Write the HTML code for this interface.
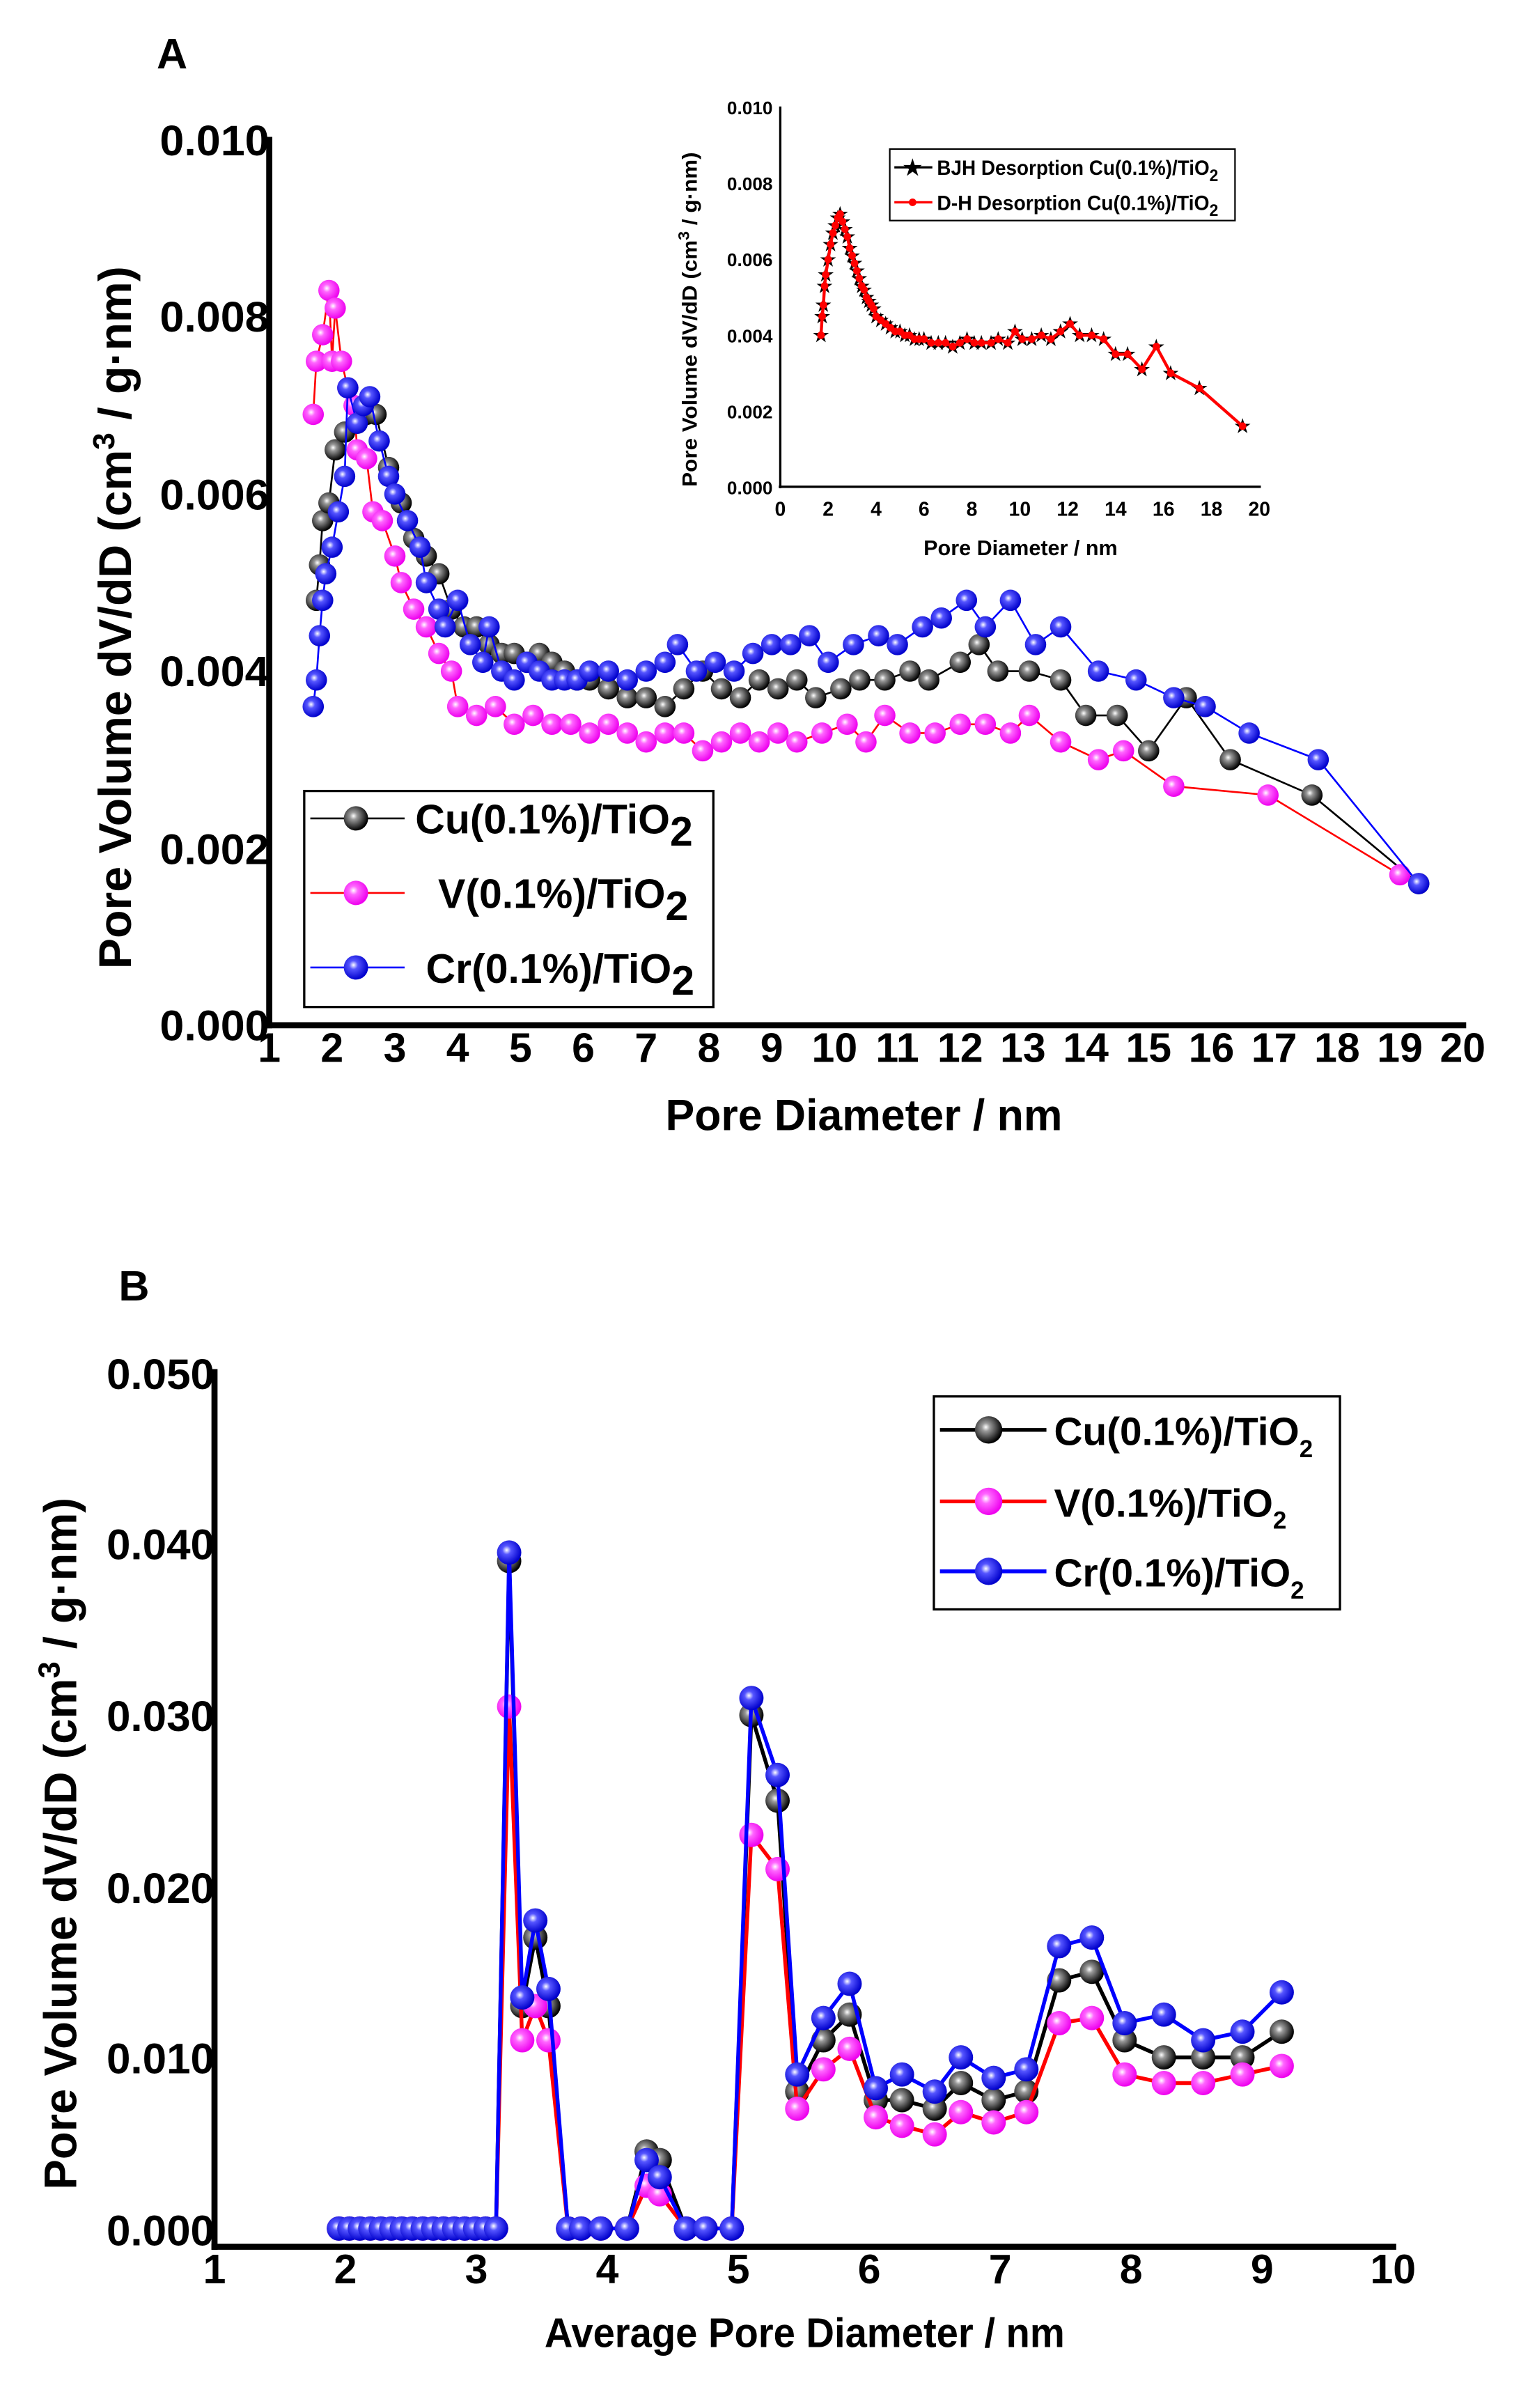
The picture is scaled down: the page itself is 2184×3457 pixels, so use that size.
<!DOCTYPE html>
<html><head><meta charset="utf-8"><style>
html,body{margin:0;padding:0;background:#fff}
svg{display:block}
text{font-family:"Liberation Sans",sans-serif;font-weight:bold}
</style></head><body>
<svg id="s" width="2184" height="3457" viewBox="0 0 1000 1583" xmlns="http://www.w3.org/2000/svg">
<defs>
<radialGradient id="gk" cx="0.4" cy="0.4" r="0.6"><stop offset="0" stop-color="#fff"/><stop offset="0.25" stop-color="#999"/><stop offset="1" stop-color="#000"/></radialGradient>
<radialGradient id="gm" cx="0.4" cy="0.4" r="0.6"><stop offset="0" stop-color="#fff"/><stop offset="0.3" stop-color="#f6f"/><stop offset="1" stop-color="#e0e"/></radialGradient>
<radialGradient id="gb" cx="0.4" cy="0.4" r="0.6"><stop offset="0" stop-color="#fff"/><stop offset="0.3" stop-color="#55f"/><stop offset="1" stop-color="#00c"/></radialGradient>
</defs>
<text x="103" y="45" font-size="28">A</text>
<text x="78" y="855" font-size="28">B</text>
<!-- Chart A axes -->
<g id="A"></g>
<line x1="177" y1="90" x2="177" y2="676" stroke="#000" stroke-width="4"/>
<line x1="175" y1="674" x2="964" y2="674" stroke="#000" stroke-width="4"/>
<g font-size="28">
<text x="105" y="102" textLength="72" lengthAdjust="spacingAndGlyphs">0.010</text><text x="105" y="218" textLength="72" lengthAdjust="spacingAndGlyphs">0.008</text><text x="105" y="335" textLength="72" lengthAdjust="spacingAndGlyphs">0.006</text>
<text x="105" y="451" textLength="72" lengthAdjust="spacingAndGlyphs">0.004</text><text x="105" y="568" textLength="72" lengthAdjust="spacingAndGlyphs">0.002</text><text x="105" y="684" textLength="72" lengthAdjust="spacingAndGlyphs">0.000</text>
</g>
<g font-size="27" text-anchor="middle" id="axA"></g>
<text x="568" y="743" font-size="29" text-anchor="middle" textLength="261" lengthAdjust="spacingAndGlyphs">Pore Diameter / nm</text>
<text transform="translate(86,406) rotate(-90)" font-size="30" text-anchor="middle" textLength="462" lengthAdjust="spacingAndGlyphs">Pore Volume dV/dD (cm<tspan dy="-11" font-size="20">3</tspan><tspan dy="11"> / g·nm)</tspan></text>
<!-- legend A -->
<rect x="200" y="520" width="269" height="142" fill="#fff" stroke="#000" stroke-width="1.5"/>
<g id="legA"></g>
<text x="273" y="548" font-size="27">Cu(0.1%)/TiO<tspan dy="8">2</tspan></text>
<text x="288" y="597" font-size="27">V(0.1%)/TiO<tspan dy="8">2</tspan></text>
<text x="280" y="646" font-size="27">Cr(0.1%)/TiO<tspan dy="8">2</tspan></text>
<!-- inset -->
<g id="I"></g>
<line x1="513" y1="70" x2="513" y2="321" stroke="#000" stroke-width="1.5"/>
<line x1="512" y1="320" x2="829" y2="320" stroke="#000" stroke-width="1.5"/>
<g font-size="12" text-anchor="end">
<text x="508" y="75">0.010</text><text x="508" y="125">0.008</text><text x="508" y="175">0.006</text>
<text x="508" y="225">0.004</text><text x="508" y="275">0.002</text><text x="508" y="325">0.000</text>
</g>
<g font-size="13" text-anchor="middle" id="axI"></g>
<text x="671" y="365" font-size="14" text-anchor="middle">Pore Diameter / nm</text>
<text transform="translate(458,210) rotate(-90)" font-size="13.5" text-anchor="middle" textLength="220" lengthAdjust="spacingAndGlyphs">Pore Volume dV/dD   (cm<tspan dy="-5" font-size="10">3</tspan><tspan dy="5"> / g·nm)</tspan></text>
<rect x="585" y="98" width="227" height="47" fill="#fff" stroke="#000" stroke-width="1"/>
<line x1="588" y1="110" x2="613" y2="110" stroke="#000" stroke-width="1.5"/>
<text x="600" y="115" font-size="14" text-anchor="middle">★</text>
<line x1="588" y1="133" x2="613" y2="133" stroke="#f00" stroke-width="1.5"/>
<circle cx="600" cy="133" r="2.5" fill="#f00"/>
<text x="616" y="115" font-size="13.5" textLength="185" lengthAdjust="spacingAndGlyphs">BJH Desorption Cu(0.1%)/TiO<tspan dy="4" font-size="11">2</tspan></text>
<text x="616" y="138" font-size="13.5" textLength="185" lengthAdjust="spacingAndGlyphs">D-H Desorption Cu(0.1%)/TiO<tspan dy="4" font-size="11">2</tspan></text>
<!-- Chart B -->
<g id="B"></g>
<line x1="141" y1="900" x2="141" y2="1479" stroke="#000" stroke-width="4"/>
<line x1="139" y1="1477" x2="918" y2="1477" stroke="#000" stroke-width="4"/>
<g font-size="28">
<text x="70" y="913" textLength="71" lengthAdjust="spacingAndGlyphs">0.050</text><text x="70" y="1025" textLength="71" lengthAdjust="spacingAndGlyphs">0.040</text><text x="70" y="1138" textLength="71" lengthAdjust="spacingAndGlyphs">0.030</text>
<text x="70" y="1251" textLength="71" lengthAdjust="spacingAndGlyphs">0.020</text><text x="70" y="1363" textLength="71" lengthAdjust="spacingAndGlyphs">0.010</text><text x="70" y="1476" textLength="71" lengthAdjust="spacingAndGlyphs">0.000</text>
</g>
<g font-size="27" text-anchor="middle" id="axB"></g>
<text x="529" y="1543" font-size="27" text-anchor="middle" textLength="342" lengthAdjust="spacingAndGlyphs">Average Pore Diameter / nm</text>
<text transform="translate(50,1212) rotate(-90)" font-size="30" text-anchor="middle" textLength="455" lengthAdjust="spacingAndGlyphs">Pore Volume dV/dD (cm<tspan dy="-11" font-size="20">3</tspan><tspan dy="11"> / g·nm)</tspan></text>
<rect x="614" y="918" width="267" height="140" fill="#fff" stroke="#000" stroke-width="1.5"/>
<g id="legB"></g>
<text x="693" y="950" font-size="26">Cu(0.1%)/TiO<tspan dy="8" font-size="16">2</tspan></text>
<text x="693" y="997" font-size="26">V(0.1%)/TiO<tspan dy="8" font-size="16">2</tspan></text>
<text x="693" y="1043" font-size="26">Cr(0.1%)/TiO<tspan dy="8" font-size="16">2</tspan></text>
</svg>
<script>
var NS="http://www.w3.org/2000/svg";
function el(p,t,a){var e=document.createElementNS(NS,t);for(var k in a)e.setAttribute(k,a[k]);p.appendChild(e);return e;}
function G(id){return document.getElementById(id);}
for(var i=1;i<=20;i++){var t=el(G("axA"),"text",{x:177+(i-1)*41.3,y:698});t.textContent=i;}
for(var i=0;i<=20;i+=2){var t=el(G("axI"),"text",{x:513+i*15.75,y:339});t.textContent=i;}
for(var i=1;i<=10;i++){var t=el(G("axB"),"text",{x:141+(i-1)*86.1,y:1501});t.textContent=i;}
function P(s){return s.split(/\s+/).filter(Boolean).map(function(p){return p.split(",").map(Number);});}
var cu=P("1.75,.0048 1.8,.0052 1.85,.0057 1.95,.0059 2.05,.0065 2.2,.0067 2.4,.0068 2.55,.0069 2.7,.0069 2.9,.0063 3.1,.0059 3.3,.0055 3.5,.0053 3.7,.0051 3.9,.0047 4.1,.0045 4.3,.0045 4.5,.0043 4.7,.0042 4.9,.0042 5.1,.0041 5.3,.0042 5.5,.0041 5.7,.0040 5.9,.0039 6.1,.0039 6.4,.0038 6.7,.0037 7.0,.0037 7.3,.0036 7.6,.0038 7.9,.0040 8.2,.0038 8.5,.0037 8.8,.0039 9.1,.0038 9.4,.0039 9.7,.0037 10.1,.0038 10.4,.0039 10.8,.0039 11.2,.0040 11.5,.0039 12.0,.0041 12.3,.0043 12.6,.0040 13.1,.0040 13.6,.0039 14.0,.0035 14.5,.0035 15.0,.0031 15.6,.0037 16.3,.0030 17.6,.0026 19.3,.0016");
var v=P("1.7,.0069 1.75,.0075 1.85,.0078 1.95,.0083 2.0,.0075 2.05,.0081 2.15,.0075 2.25,.0072 2.35,.0070 2.4,.0065 2.55,.0064 2.65,.0058 2.8,.0057 3.0,.0053 3.1,.0050 3.3,.0047 3.5,.0045 3.7,.0042 3.9,.0040 4.0,.0036 4.3,.0035 4.6,.0036 4.9,.0034 5.2,.0035 5.5,.0034 5.8,.0034 6.1,.0033 6.4,.0034 6.7,.0033 7.0,.0032 7.3,.0033 7.6,.0033 7.9,.0031 8.2,.0032 8.5,.0033 8.8,.0032 9.1,.0033 9.4,.0032 9.8,.0033 10.2,.0034 10.5,.0032 10.8,.0035 11.2,.0033 11.6,.0033 12.0,.0034 12.4,.0034 12.8,.0033 13.1,.0035 13.6,.0032 14.2,.0030 14.6,.0031 15.4,.0027 16.9,.0026 19.0,.0017");
var cr=P("1.7,.0036 1.75,.0039 1.8,.0044 1.85,.0048 1.9,.0051 2.0,.0054 2.1,.0058 2.2,.0062 2.25,.0072 2.4,.0068 2.5,.0070 2.6,.0071 2.75,.0066 2.9,.0062 3.0,.0060 3.2,.0057 3.4,.0054 3.5,.0050 3.7,.0047 3.8,.0045 4.0,.0048 4.2,.0043 4.4,.0041 4.5,.0045 4.7,.0040 4.9,.0039 5.1,.0041 5.3,.0040 5.5,.0039 5.7,.0039 5.9,.0039 6.1,.0040 6.4,.0040 6.7,.0039 7.0,.0040 7.3,.0041 7.5,.0043 7.8,.0040 8.1,.0041 8.4,.0040 8.7,.0042 9.0,.0043 9.3,.0043 9.6,.0044 9.9,.0041 10.3,.0043 10.7,.0044 11.0,.0043 11.4,.0045 11.7,.0046 12.1,.0048 12.4,.0045 12.8,.0048 13.2,.0043 13.6,.0045 14.2,.0040 14.8,.0039 15.4,.0037 15.9,.0036 16.6,.0033 17.7,.0030 19.3,.0016");
function ser(g,d,fx,fy,col,grad,r,lw){
  var pts=d.map(function(p){return fx(p[0])+","+fy(p[1]);}).join(" ");
  el(g,"polyline",{points:pts,fill:"none",stroke:col,"stroke-width":lw});
  if(grad)d.forEach(function(p){el(g,"circle",{cx:fx(p[0]),cy:fy(p[1]),r:r,fill:"url(#"+grad+")"});});
}
var ax=function(x){return 177+(x-1)*41.3;}, ay=function(y){return 674-y*58200;};
ser(G("A"),cu,ax,ay,"#000","gk",7,1.2);
ser(G("A"),v,ax,ay,"#f00","gm",7,1.2);
ser(G("A"),cr,ax,ay,"#00f","gb",7,1.2);
[[538,"#000","gk"],[587,"#f00","gm"],[636,"#00f","gb"]].forEach(function(a){
 el(G("legA"),"line",{x1:204,y1:a[0],x2:266,y2:a[0],stroke:a[1],"stroke-width":1.2});
 el(G("legA"),"circle",{cx:234,cy:a[0],r:8,fill:"url(#"+a[2]+")"});});
// inset
var ix=function(x){return 513+x*15.75;}, iy=function(y){return 320-y*24900;};
var ins=P("1.7,.0040 1.75,.0045 1.8,.0048 1.85,.0053 1.9,.0056 2.0,.0060 2.1,.0064 2.2,.0067 2.3,.0069 2.4,.0071 2.5,.0072 2.6,.0070 2.7,.0068 2.8,.0066 2.9,.0063 3.0,.0061 3.1,.0059 3.2,.0057 3.3,.0055 3.4,.0053 3.5,.0052 3.6,.0050 3.7,.0049 3.8,.0048 3.9,.0047 4.0,.0045 4.2,.0044 4.4,.0043 4.6,.0042 4.8,.0041 5.0,.0041 5.2,.0040 5.4,.0040 5.6,.0039 5.8,.0039 6.0,.0039 6.3,.0038 6.6,.0038 6.9,.0038 7.2,.0037 7.5,.0038 7.8,.0039 8.1,.0038 8.4,.0038 8.8,.0038 9.1,.0039 9.5,.0038 9.8,.0041 10.1,.0039 10.5,.0039 10.9,.0040 11.3,.0039 11.7,.0041 12.1,.0043 12.5,.0040 13.0,.0040 13.5,.0039 14.0,.0035 14.5,.0035 15.1,.0031 15.7,.0037 16.3,.0030 17.5,.0026 19.3,.0016");
ser(G("I"),ins,ix,iy,"#000",null,0,1.2);
ins.forEach(function(p){var t=el(G("I"),"text",{x:ix(p[0]),y:iy(p[1])+4,"font-size":12,"text-anchor":"middle"});t.textContent="★";});
ser(G("I"),ins,ix,iy,"#f00",null,0,2);
ins.forEach(function(p){el(G("I"),"circle",{cx:ix(p[0]),cy:iy(p[1]),r:2.5,fill:"#f00"});});
// chart B
var bx=[1.95,2.03,2.11,2.19,2.27,2.35,2.43,2.51,2.59,2.67,2.75,2.83,2.91,2.99,3.07,3.15];
var xs=[3.25,3.35,3.45,3.55,3.7,3.8,3.95,4.15,4.3,4.4,4.6,4.75,4.95,5.1,5.3,5.45,5.65,5.85,6.05,6.25,6.5,6.7,6.95,7.2,7.45,7.7,7.95,8.25,8.55,8.85,9.15];
var yc=[.039,.013,.017,.013,0,0,0,0,.0045,.004,0,0,0,.030,.025,.008,.011,.0125,.0075,.0075,.007,.0085,.0075,.008,.0145,.015,.011,.010,.010,.010,.0115];
var yv=[.0305,.011,.013,.011,0,0,0,0,.0025,.002,0,0,0,.023,.021,.007,.0093,.0105,.0065,.006,.0055,.0068,.0062,.0068,.012,.0123,.009,.0085,.0085,.009,.0095];
var yr=[.0395,.0135,.018,.014,0,0,0,0,.004,.003,0,0,0,.031,.0265,.009,.0123,.0143,.0082,.009,.008,.010,.0088,.0093,.0165,.017,.012,.0125,.011,.0115,.0138];
function mk(ys){return bx.map(function(x){return [x,0];}).concat(xs.map(function(x,i){return [x,ys[i]];}));}
var gx=function(x){return 141+(x-1)*86.1;}, gy=function(y){return 1465-y*11250;};
ser(G("B"),mk(yc),gx,gy,"#000","gk",8,2.5);
ser(G("B"),mk(yv),gx,gy,"#f00","gm",8,2.5);
ser(G("B"),mk(yr),gx,gy,"#00f","gb",8,2.5);
[[940,"#000","gk"],[987,"#f00","gm"],[1033,"#00f","gb"]].forEach(function(a){
 el(G("legB"),"line",{x1:618,y1:a[0],x2:688,y2:a[0],stroke:a[1],"stroke-width":2.5});
 el(G("legB"),"circle",{cx:650,cy:a[0],r:9,fill:"url(#"+a[2]+")"});});
</script>
</body></html>
